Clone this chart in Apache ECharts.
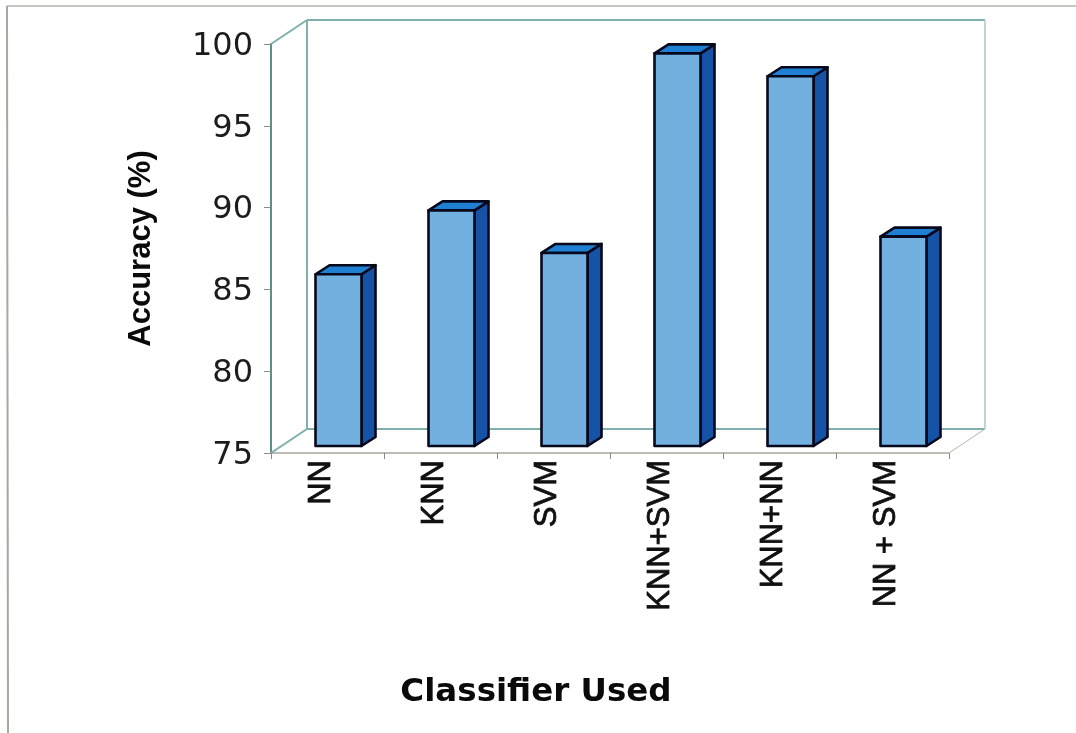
<!DOCTYPE html>
<html>
<head>
<meta charset="utf-8">
<style>html,body{margin:0;padding:0;background:#fff}#chart{width:1076px;height:733px}</style>
<script src="https://cdn.jsdelivr.net/npm/echarts@6/dist/echarts.min.js"></script>
</head>
<body>
<div id="chart"></div>
<script>
// Classification accuracy per classifier
const classifiers = ['NN', 'KNN', 'SVM', 'KNN+SVM', 'KNN+NN', 'NN + SVM'];
const accuracy = [85.5, 89.4, 86.8, 99, 97.6, 87.8];
const yTicks = { min: 75, max: 100, interval: 5 };

// Pseudo-3D geometry, in pixels
const WALL_DX = 36, WALL_DY = -24;         // depth of the chart box
const BAR_SHIFT_X = 11, BAR_SHIFT_Y = -7;  // where bars stand on the floor
const BAR_WIDTH = 46;
const BAR_DX = 14, BAR_DY = -9;            // depth of one bar

const WALL = '#7fb0ae', AXIS = '#5f8f8c', FLOOR = '#b5b5a8', OUTLINE = '#07081c';

function line(x1, y1, x2, y2, stroke, lineWidth) {
  return { type: 'line', shape: { x1, y1, x2, y2 }, style: { stroke, lineWidth, fill: null } };
}

function renderBox(params) {
  const c = params.coordSys;
  const L = c.x, R = c.x + c.width, T = c.y, B = c.y + c.height;
  return {
    type: 'group',
    children: [
      line(L + WALL_DX, T + WALL_DY, R + WALL_DX, T + WALL_DY, WALL, 2),
      line(L + WALL_DX, T + WALL_DY, L + WALL_DX, B + WALL_DY, WALL, 2),
      line(L + WALL_DX, B + WALL_DY, R + WALL_DX, B + WALL_DY, WALL, 2),
      line(R + WALL_DX, T + WALL_DY, R + WALL_DX, B + WALL_DY, '#bcd6d4', 2),
      line(L, T, L + WALL_DX, T + WALL_DY, WALL, 2),
      line(L, B, L + WALL_DX, B + WALL_DY, WALL, 2),
      line(R, B, R + WALL_DX, B + WALL_DY, FLOOR, 1)
    ]
  };
}

function renderBar(params, api) {
  const top = api.coord([api.value(0), api.value(1)]);
  const base = api.coord([api.value(0), yTicks.min]);
  const x0 = top[0] + BAR_SHIFT_X - BAR_WIDTH / 2, x1 = x0 + BAR_WIDTH;
  const yT = top[1] + BAR_SHIFT_Y, yB = base[1] + BAR_SHIFT_Y;
  const edge = { stroke: OUTLINE, lineWidth: 2.6, lineJoin: 'round' };
  return {
    type: 'group',
    children: [
      { type: 'polygon',
        shape: { points: [[x1, yT], [x1 + BAR_DX, yT + BAR_DY], [x1 + BAR_DX, yB + BAR_DY], [x1, yB]] },
        style: Object.assign({ fill: '#1553a6' }, edge) },
      { type: 'polygon',
        shape: { points: [[x0, yT], [x0 + BAR_DX, yT + BAR_DY], [x1 + BAR_DX, yT + BAR_DY], [x1, yT]] },
        style: Object.assign({ fill: '#1f7fd2' }, edge) },
      { type: 'rect',
        shape: { x: x0, y: yT, width: BAR_WIDTH, height: yB - yT },
        style: Object.assign({ fill: '#72b0e0' }, edge) }
    ]
  };
}

const chart = echarts.init(document.getElementById('chart'), null, { renderer: 'canvas' });
chart.setOption({
  animation: false,
  backgroundColor: '#ffffff',
  grid: { left: 271, right: 127, top: 44, bottom: 280, containLabel: false },
  xAxis: {
    type: 'category',
    data: classifiers,
    boundaryGap: true,
    name: 'Classifier Used',
    nameLocation: 'middle',
    nameGap: 223,
    nameTextStyle: {
      fontFamily: 'DejaVu Sans', fontWeight: 'bold', fontSize: 32.5, color: '#0a0a0a',
      padding: [0, 148, 0, 0]
    },
    axisLine: { lineStyle: { color: '#a8a89c', width: 1.5 } },
    axisTick: { show: true, length: 6, lineStyle: { color: '#8a8a80' } },
    axisLabel: {
      rotate: 90, interval: 0, margin: 7,
      fontFamily: 'Liberation Sans', fontSize: 31, color: '#101010',
      textBorderColor: '#101010', textBorderWidth: 0.8,
      verticalAlign: 'bottom', lineHeight: 12
    },
    splitLine: { show: false }
  },
  yAxis: {
    type: 'value',
    min: yTicks.min, max: yTicks.max, interval: yTicks.interval,
    name: 'Accuracy (%)',
    nameLocation: 'middle',
    nameGap: 114,
    nameTextStyle: {
      fontFamily: 'Liberation Sans', fontWeight: 'bold', fontSize: 31, color: '#0a0a0a'
    },
    axisLine: { show: true, lineStyle: { color: AXIS, width: 2 } },
    axisTick: { show: true, length: 7, lineStyle: { color: '#8a8a80' } },
    axisLabel: {
      margin: 18, fontFamily: 'DejaVu Sans', fontSize: 32, color: '#1c1c1c',
      verticalAlign: 'top', lineHeight: 5
    },
    splitLine: { show: false }
  },
  // Page frame around the figure
  graphic: [
    { type: 'line', silent: true, shape: { x1: 7, y1: 6, x2: 1076, y2: 6 }, style: { stroke: '#b4b4ac', lineWidth: 1.5 } },
    { type: 'line', silent: true, shape: { x1: 7, y1: 6, x2: 8, y2: 733 }, style: { stroke: '#a8a8a0', lineWidth: 2 } }
  ],
  series: [
    { type: 'custom', coordinateSystem: 'cartesian2d', renderItem: renderBox, silent: true, clip: false,
      z: 1, data: [[classifiers[0], yTicks.min]], encode: { x: 0, y: 1 } },
    { type: 'custom', coordinateSystem: 'cartesian2d', renderItem: renderBar, clip: false,
      z: 3, data: classifiers.map((c, i) => [c, accuracy[i]]), encode: { x: 0, y: 1 } }
  ]
});
</script>
</body>
</html>
